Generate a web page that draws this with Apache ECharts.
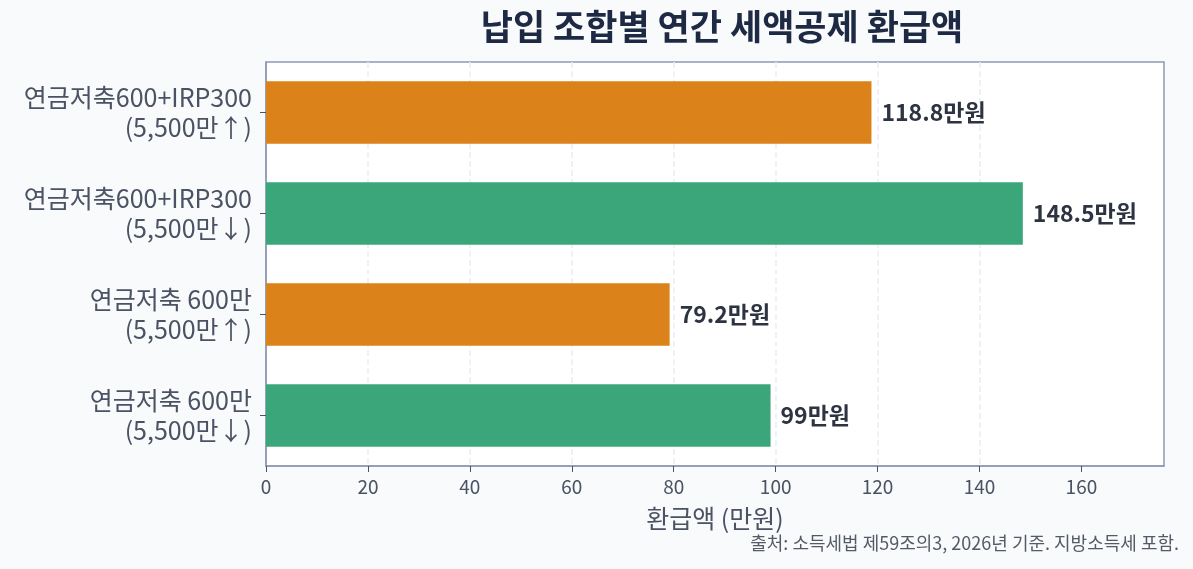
<!DOCTYPE html>
<html>
<head>
    <meta charset="utf-8" />
    <title>납입 조합별 연간 세액공제 환급액</title>
    <script src="https://cdn.jsdelivr.net/npm/echarts@6.0.0/dist/echarts.min.js"></script>
    <style>
        html, body { margin: 0; padding: 0; background: #f8fafc; }
    </style>
</head>
<body>
    <div id="main" style="width: 1193px;height:569px;"></div>
    <script type="text/javascript">
        // 아래에서 위 순서 (category 축은 첫 항목이 맨 아래)
        var categories = [
            '연금저축 600만\n(5,500만↓)',
            '연금저축 600만\n(5,500만↑)',
            '연금저축600+IRP300\n(5,500만↓)',
            '연금저축600+IRP300\n(5,500만↑)'
        ];
        var refunds = [99, 79.2, 148.5, 118.8];
        var groups = ['low', 'high', 'low', 'high']; // 소득 구간
        var xTicks = [0, 20, 40, 60, 80, 100, 120, 140, 160];

        var colors = { low: '#3ca67b', high: '#db821b' };
        var font = "'Noto Sans CJK KR', 'Noto Sans', sans-serif";

        var myChart = echarts.init(document.getElementById('main'));

        var option = {
            backgroundColor: '#f8fafc',
            textStyle: { fontFamily: font },
            title: {
                text: '납입 조합별 연간 세액공제 환급액',
                left: 717,
                textAlign: 'center',
                top: 4,
                textStyle: { fontSize: 35, fontWeight: 'bold', color: '#1e2a44', fontFamily: font }
            },
            graphic: [{
                type: 'text',
                right: 14,
                top: 534,
                style: {
                    text: '출처: 소득세법 제59조의3, 2026년 기준. 지방소득세 포함.',
                    fontSize: 18,
                    fill: '#555b66',
                    fontFamily: font
                }
            }],
            grid: {
                left: 266, right: 29, top: 62, bottom: 103,
                show: true,
                backgroundColor: '#ffffff',
                borderColor: '#8e9bb3',
                borderWidth: 1.5
            },
            xAxis: {
                type: 'value',
                min: 0,
                max: 176.2,
                interval: 20,
                name: '환급액 (만원)',
                nameLocation: 'middle',
                nameGap: 40,
                nameTextStyle: { fontSize: 25, color: '#4a5263', fontFamily: font },
                axisLine: { show: true, lineStyle: { color: '#8e9bb3', width: 1.5 } },
                axisTick: { show: true, length: 6, customValues: xTicks, lineStyle: { color: '#4a5263' } },
                axisLabel: { fontSize: 19, color: '#4a5263', margin: 11, customValues: xTicks },
                splitLine: {
                    show: true, showMinLine: false, showMaxLine: false,
                    lineStyle: { color: '#e9edf2', type: 'dashed', width: 1.5 }
                }
            },
            yAxis: {
                type: 'category',
                data: categories,
                axisLine: { show: true, lineStyle: { color: '#8e9bb3', width: 1.5 } },
                axisTick: { show: true, alignWithLabel: true, length: 6, lineStyle: { color: '#4a5263' } },
                axisLabel: { fontSize: 25, color: '#4a5263', lineHeight: 30, margin: 14, fontFamily: font },
                splitLine: { show: false }
            },
            series: [{
                type: 'bar',
                barCategoryGap: '38%',
                data: refunds.map(function (v, i) {
                    return { value: v, itemStyle: { color: colors[groups[i]] } };
                }),
                label: {
                    show: true,
                    position: 'right',
                    distance: 10,
                    fontSize: 23,
                    fontWeight: 'bold',
                    color: '#2d3340',
                    fontFamily: font,
                    formatter: function (p) { return p.value + '만원'; }
                }
            }]
        };

        myChart.setOption(option);
    </script>
</body>
</html>
